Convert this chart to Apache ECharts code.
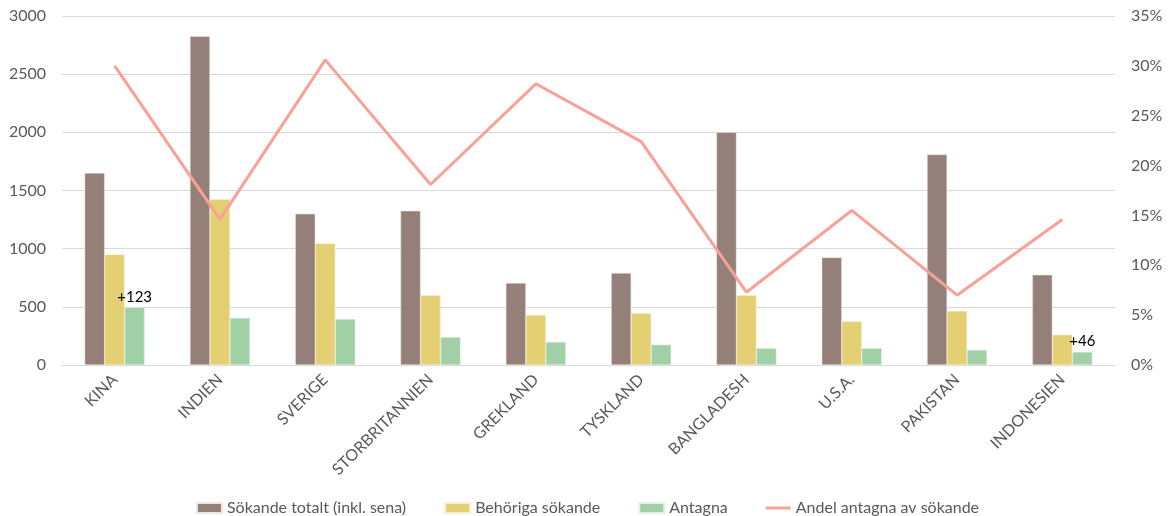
<!DOCTYPE html>
<html>
<head>
<meta charset="utf-8">
<script src="https://cdn.jsdelivr.net/npm/echarts@6/dist/echarts.min.js"></script>
<style>html,body{margin:0;padding:0;background:#fff}#c{width:1175px;height:516px}</style>
</head>
<body>
<div id="c"></div>
<script>
const categories = ['KINA','INDIEN','SVERIGE','STORBRITANNIEN','GREKLAND','TYSKLAND','BANGLADESH','U.S.A.','PAKISTAN','INDONESIEN'];
const sokandeTotalt = [1650, 2825, 1300, 1325, 705, 790, 2000, 925, 1810, 775];
const behoriga = [950, 1425, 1045, 600, 430, 445, 600, 375, 465, 260];
const antagna = [495, 405, 395, 240, 198, 175, 145, 145, 130, 112];
const andel = [30.0, 14.6, 30.6, 18.1, 28.2, 22.4, 7.3, 15.5, 7.0, 14.6];
const annotations = {0: '+123', 9: '+46'};
const leftTicks = [0, 500, 1000, 1500, 2000, 2500, 3000];

const font = 'Lato, "Noto Sans", sans-serif';
const chart = echarts.init(document.getElementById('c'));
chart.setOption({
  animation: false,
  textStyle: {fontFamily: font},
  grid: {left: 62, right: 60, top: 16, bottom: 151, containLabel: false},
  legend: {
    top: 495, left: 'center', itemWidth: 25, itemHeight: 10, itemGap: 38,
    textStyle: {fontSize: 16, color: '#595959', fontFamily: font},
    data: [
      {name: 'Sökande totalt (inkl. sena)', icon: 'rect'},
      {name: 'Behöriga sökande', icon: 'rect'},
      {name: 'Antagna', icon: 'rect'},
      {name: 'Andel antagna av sökande', icon: 'path://M0,0H50V6H0Z'}
    ]
  },
  xAxis: {
    type: 'category', data: categories,
    axisLine: {show: true, lineStyle: {color: '#d9d9d9'}},
    axisTick: {show: false},
    axisLabel: {rotate: 45, fontSize: 16, color: '#595959', margin: 12, interval: 0}
  },
  yAxis: [
    {type: 'value', min: leftTicks[0], max: leftTicks[leftTicks.length-1], interval: 500,
     axisLine: {show: false}, axisTick: {show: false},
     axisLabel: {fontSize: 16, color: '#595959', margin: 16, formatter: v => String(v)},
     splitLine: {lineStyle: {color: '#d9d9d9'}}},
    {type: 'value', min: 0, max: 35, interval: 5, position: 'right',
     axisLine: {show: false}, axisTick: {show: false},
     axisLabel: {fontSize: 16, color: '#595959', margin: 16, formatter: '{value}%'},
     splitLine: {show: false}}
  ],
  series: [
    {name: 'Sökande totalt (inkl. sena)', type: 'bar', data: sokandeTotalt, barWidth: 20, barGap: '0%',
     itemStyle: {color: '#948078', borderColor: '#ece7e4', borderWidth: 0.5}},
    {name: 'Behöriga sökande', type: 'bar', data: behoriga, barWidth: 20, barGap: '0%',
     itemStyle: {color: '#E5CF73', borderColor: '#f5eed6', borderWidth: 0.5}},
    {name: 'Antagna', type: 'bar', barWidth: 20, barGap: '0%',
     itemStyle: {color: '#A1D0A6', borderColor: '#e3f2e5', borderWidth: 0.5},
     data: antagna.map((v, i) => annotations[i] ? {value: v, label: {show: true, position: 'top', formatter: annotations[i], color: '#000', fontSize: 15, distance: 3}} : v)},
    {name: 'Andel antagna av sökande', type: 'line', yAxisIndex: 1, data: andel,
     symbol: 'none', lineStyle: {color: '#F9A196', width: 3}, itemStyle: {color: '#F9A196'}}
  ]
});
</script>
</body>
</html>
